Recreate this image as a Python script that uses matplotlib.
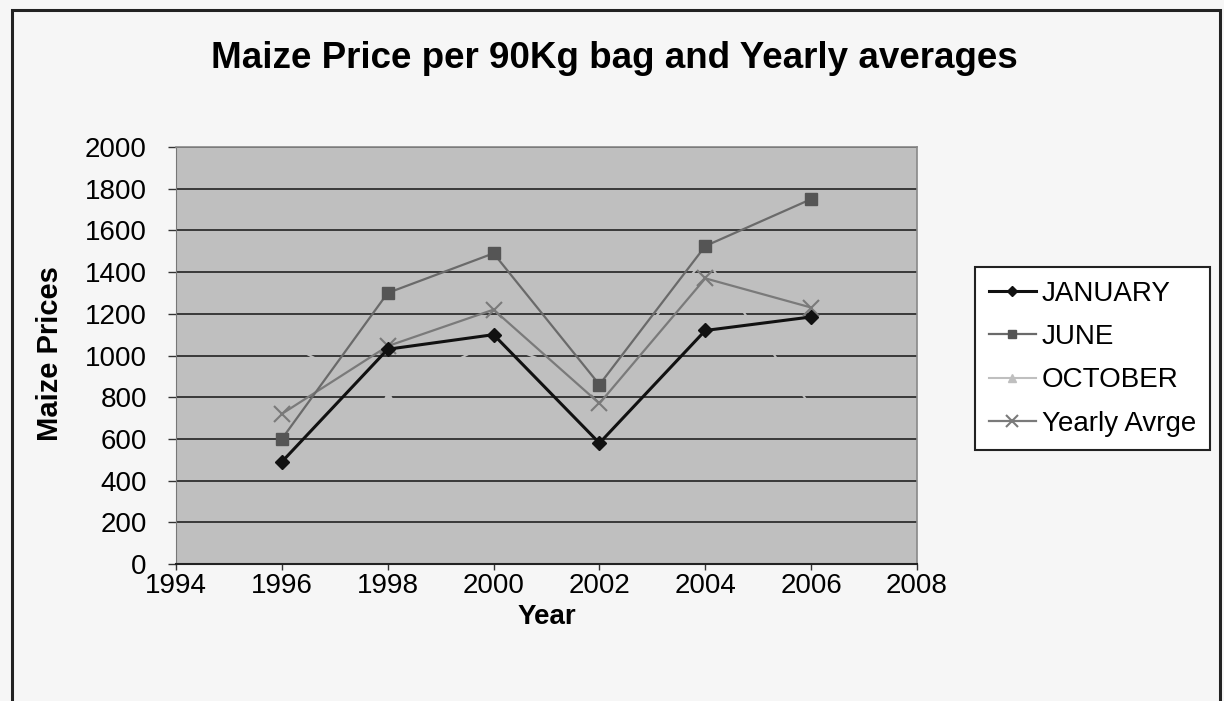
import matplotlib.pyplot as plt
from matplotlib.patches import Rectangle

plt.rcParams['font.family'] = ['Liberation Sans', 'DejaVu Sans']

years = [1996, 1998, 2000, 2002, 2004, 2006]
january = [490, 1030, 1100, 580, 1120, 1185]
june = [600, 1300, 1490, 860, 1525, 1750]
october = [1070, 805, 1070, 870, 1465, 755]
yearly_avg = [720, 1045, 1220, 770, 1370, 1230]

xticks = list(range(1994, 2009, 2))
yticks = list(range(0, 2001, 200))

fig = plt.figure(figsize=(12.24, 7.01), dpi=100)
fig.patch.set_facecolor('#f6f6f6')

# outer chart frame
fig.patches.append(Rectangle((12/1224, -0.01), (1220-12)/1224, (701-10)/701 + 0.01,
                             transform=fig.transFigure, fill=False,
                             edgecolor='#222222', linewidth=2.2))

ax = fig.add_axes([176/1224, (701-564)/701, 741/1224, 417/701])
ax.set_facecolor('#bfbfbf')

# october is drawn in the plot-area colour, so it does not show (as in the scan)
ax.plot(years, october, color='#bfbfbf', marker='^', markersize=7, linewidth=1.5, label='OCTOBER', zorder=2)
ax.plot(years, yearly_avg, color='#7a7a7a', marker='x', markersize=11, markeredgewidth=1.5,
        linewidth=1.6, label='Yearly Avrge', zorder=3)
ax.plot(years, june, color='#6a6a6a', marker='s', markersize=8, markerfacecolor='#555555',
        markeredgecolor='#555555', linewidth=1.6, label='JUNE', zorder=4)
ax.plot(years, january, color='#111111', marker='D', markersize=7, linewidth=2.2, label='JANUARY', zorder=5)

ax.set_xlim(1994, 2008)
ax.set_ylim(0, 2000)
ax.set_xticks(xticks)
ax.set_yticks(yticks)
ax.tick_params(axis='both', labelsize=20, direction='out', width=1, colors='#333333',
               labelcolor='black')
ax.tick_params(axis='y', length=6, pad=15)
ax.tick_params(axis='x', length=4, pad=2.5)
ax.yaxis.grid(True, color='#222222', linewidth=1.2)
ax.set_axisbelow(True)
for s in ['top', 'right']:
    ax.spines[s].set_color('#888888')
    ax.spines[s].set_linewidth(1.2)
ax.spines['left'].set_color('#777777')
ax.spines['bottom'].set_color('#222222')
ax.spines['bottom'].set_linewidth(1.5)

ax.set_xlabel('Year', fontsize=20, fontweight='bold')
ax.set_ylabel('Maize Prices', fontsize=21, fontweight='bold')
ax.xaxis.set_label_coords((547-176)/741, -(604-564)/417)
ax.yaxis.set_label_coords(-(176-64)/741, (564-354)/417)

fig.text(614/1224, 1 - 58/701, 'Maize Price per 90Kg bag and Yearly averages',
         ha='center', va='center', fontsize=26.5, fontweight='bold')

handles, labels = ax.get_legend_handles_labels()
order = [3, 2, 0, 1]
leg = fig.legend([handles[i] for i in order], [labels[i] for i in order],
                 loc='upper left', bbox_to_anchor=(975/1224, 1 - 267/701),
                 fontsize=20, frameon=True, fancybox=False, edgecolor='#222222',
                 facecolor='white', framealpha=1, handlelength=1.7, handletextpad=0.2,
                 labelspacing=0.62, borderpad=0.5, borderaxespad=0, markerscale=0.8)
leg.get_frame().set_linewidth(1.5)

fig.savefig('out.png', dpi=100, facecolor=fig.get_facecolor())
